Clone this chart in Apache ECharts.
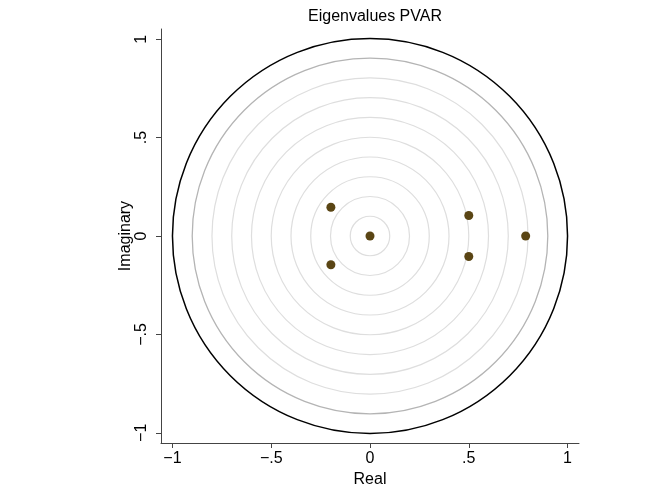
<!DOCTYPE html>
<html><head><meta charset="utf-8">
<script src="https://cdn.jsdelivr.net/npm/echarts@6/dist/echarts.min.js"></script>
<style>html,body{margin:0;padding:0;background:#fff}#c{width:672px;height:493px}</style>
</head><body><div id="c"></div>
<script>
const realParts = [0, -0.198, -0.198, 0.5, 0.5, 0.788];
const imagParts = [0, 0.146, -0.146, 0.104, -0.104, 0];
const circleRadii = [0.1, 0.2, 0.3, 0.4, 0.5, 0.6, 0.7, 0.8, 0.9, 1.0];
const tickValues = [-1, -0.5, 0, 0.5, 1];
const tickLabels = ['\u22121', '\u2212.5', '0', '.5', '1'];

const FONT = 'Liberation Sans, Arial, sans-serif';
const labelFor = v => { const i = tickValues.findIndex(t => Math.abs(t - v) < 1e-9); return i >= 0 ? tickLabels[i] : ''; };
const chart = echarts.init(document.getElementById('c'), null, {renderer: 'canvas'});
const axisCommon = {
  type: 'value',
  splitLine: {show: false},
  axisLine: {show: true, onZero: false, lineStyle: {color: '#444', width: 1}},
  axisTick: {show: true, length: 5, customValues: tickValues, lineStyle: {color: '#444'}},
  axisLabel: {customValues: tickValues, formatter: labelFor, color: '#000', fontSize: 16, fontFamily: FONT},
  nameLocation: 'middle',
  nameMoveOverlap: false,
  nameTextStyle: {color: '#000', fontSize: 16, fontFamily: FONT}
};
chart.setOption({
  animation: false,
  title: {text: 'Eigenvalues PVAR', left: 370, top: 4, textAlign: 'center',
    textStyle: {fontSize: 16, fontWeight: 'normal', color: '#000', fontFamily: FONT}},
  grid: {left: 161, right: 93, top: 29, bottom: 48},
  xAxis: Object.assign({}, axisCommon, {min: -1.058, max: 1.058, name: 'Real', nameGap: 29,
    axisLabel: Object.assign({}, axisCommon.axisLabel, {margin: 8})}),
  yAxis: Object.assign({}, axisCommon, {min: -1.052, max: 1.052, name: 'Imaginary', nameGap: 27,
    axisLabel: Object.assign({}, axisCommon.axisLabel, {rotate: 90, margin: 11})}),
  series: [
    {
      type: 'custom',
      data: circleRadii.map(r => [r]),
      renderItem: function (params, api) {
        const r = api.value(0);
        const c = api.coord([0, 0]);
        const s = api.size([r, r]);
        let stroke = '#dedede', lw = 1.2;
        if (Math.abs(r - 1) < 1e-9) { stroke = '#000'; lw = 1.5; }
        else if (Math.abs(r - 0.9) < 1e-9) { stroke = '#b4b4b4'; lw = 1.3; }
        return {type: 'circle', shape: {cx: c[0], cy: c[1], r: s[0]},
          style: {fill: null, stroke: stroke, lineWidth: lw}};
      },
      silent: true,
      z: 1
    },
    {
      type: 'scatter',
      data: realParts.map((x, i) => [x, imagParts[i]]),
      symbolSize: 9,
      itemStyle: {color: '#5a4514', opacity: 1},
      z: 3
    }
  ]
});
</script></body></html>
